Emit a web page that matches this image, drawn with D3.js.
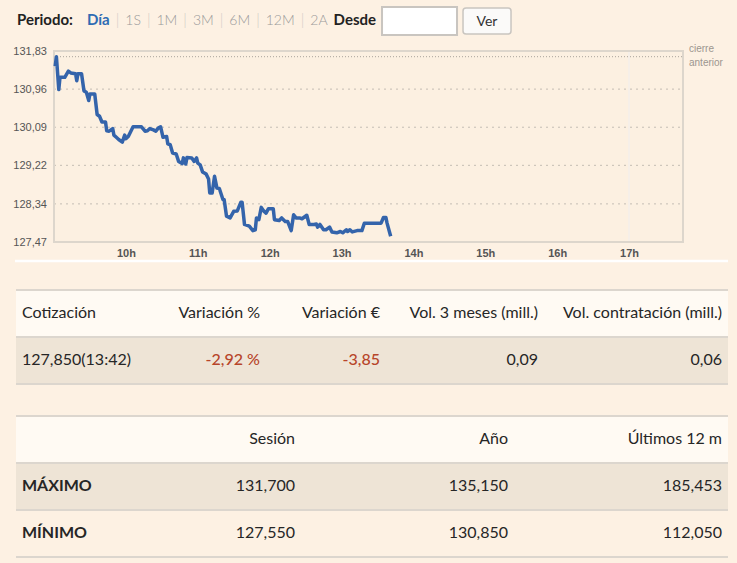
<!DOCTYPE html>
<html>
<head>
<meta charset="utf-8">
<script src="https://cdn.jsdelivr.net/npm/d3@7"></script>
<style>
  html, body { margin: 0; padding: 0; background: #fdf1e3; }
  svg { display: block; }
</style>
</head>
<body>
<div id="chart-container"></div>
<script>
// Intraday quotes (time, price)
var times = ["9:01","9:02","9:04","9:05","9:09","9:12","9:14","9:18","9:19","9:20","9:23","9:25","9:27","9:29","9:30","9:34","9:36","9:38","9:40","9:43",
  "9:44","9:46","9:49","9:50","9:52","9:54","9:57","9:59","10:00","10:02","10:06","10:13","10:16","10:18","10:20","10:23","10:25","10:27","10:29","10:31",
  "10:34","10:35","10:37","10:39","10:42","10:44","10:47","10:48","10:50","10:51","10:55","10:57","10:59","11:00","11:02","11:04","11:07","11:09","11:10","11:12",
  "11:14","11:16","11:18","11:21","11:22","11:24","11:27","11:30","11:33","11:36","11:37","11:39","11:43","11:46","11:48","11:49","11:51","11:53","11:55","11:57",
  "11:59","12:03","12:04","12:08","12:10","12:13","12:15","12:18","12:20","12:22","12:25","12:27","12:31","12:33","12:37","12:39","12:40","12:42","12:45","12:47",
  "12:50","12:52","12:56","12:59","13:01","13:04","13:05","13:07","13:09","13:13","13:17","13:19","13:33","13:35","13:37","13:38","13:41"];
var prices = [131.48,131.70,130.95,131.23,131.23,131.37,131.33,131.31,131.15,131.31,131.31,130.92,130.89,130.70,130.85,130.85,130.38,130.34,130.21,130.21,
  130.01,130.00,130.06,129.91,129.86,129.81,129.75,129.91,129.83,129.88,130.10,130.10,130.00,130.01,130.06,130.03,130.00,130.07,130.10,129.86,
  129.88,129.71,129.69,129.50,129.48,129.31,129.26,129.39,129.25,129.40,129.39,129.31,129.39,129.27,129.23,129.07,129.02,128.91,128.59,128.59,
  128.97,128.70,128.69,128.44,128.44,128.06,128.02,128.17,128.18,128.38,128.38,127.87,127.83,127.73,127.75,128.02,127.98,128.26,128.18,128.13,
  128.23,128.23,127.98,127.96,128.02,127.94,127.94,127.73,128.09,128.02,128.02,128.00,128.08,127.87,127.87,127.88,127.81,127.87,127.75,127.75,
  127.81,127.70,127.68,127.71,127.68,127.75,127.71,127.75,127.70,127.73,127.73,127.90,127.90,128.03,128.03,127.90,127.60];

var yTicks = [131.83, 130.96, 130.09, 129.22, 128.34, 127.47];
var hourTicks = [10, 11, 12, 13, 14, 15, 16, 17];
var prevClose = 131.70;

var periods = ["Día", "1S", "1M", "3M", "6M", "12M", "2A"];

var quoteHeaders = ["Cotización", "Variación %", "Variación €", "Vol. 3 meses (mill.)", "Vol. contratación (mill.)"];
var quoteValues = ["127,850(13:42)", "-2,92 %", "-3,85", "0,09", "0,06"];

var rangeHeaders = ["", "Sesión", "Año", "Últimos 12 m"];
var rangeRows = [
  ["MÁXIMO", "131,700", "135,150", "185,453"],
  ["MÍNIMO", "127,550", "130,850", "112,050"]
];

var uiFont = "Lato, 'Noto Sans', sans-serif";
var chartFont = "'Liberation Sans', Arial, sans-serif";

var svg = d3.select("#chart-container").append("svg")
  .attr("width", 737)
  .attr("height", 563);

// ---- Toolbar ----
var bar = svg.append("g").attr("font-family", uiFont).attr("font-size", 15);
var cx = 17;
function addText(txt, weight, fill, gapAfter, size) {
  var t = bar.append("text")
    .attr("x", cx).attr("y", 25)
    .attr("font-weight", weight)
    .attr("font-size", size || 15)
    .attr("fill", fill)
    .text(txt);
  cx += t.node().getComputedTextLength() + gapAfter;
  return t;
}
addText("Periodo:", "bold", "#222", 14);
periods.forEach(function(p, i) {
  addText(p, i === 0 ? "bold" : "300", i === 0 ? "#2f6cb3" : "#9a9a9a", 6, i === 0 ? 15 : 14);
  if (i < periods.length - 1) addText("|", "300", "#d2ccc4", 6, 15);
});
addText("Desde", "bold", "#222", 6);
bar.append("rect")
  .attr("x", cx).attr("y", 7).attr("width", 75).attr("height", 28)
  .attr("fill", "#fff").attr("stroke", "#c9c5c0").attr("stroke-width", 2);
cx += 81;
bar.append("rect")
  .attr("x", cx).attr("y", 8).attr("width", 48).attr("height", 26).attr("rx", 3)
  .attr("fill", "#fbfaf9").attr("stroke", "#c9c5c0").attr("stroke-width", 1.5);
bar.append("text")
  .attr("x", cx + 24).attr("y", 26)
  .attr("text-anchor", "middle")
  .attr("font-size", 14)
  .attr("fill", "#333")
  .text("Ver");

// ---- Price chart ----
var plotLeft = 54, plotRight = 683, plotTop = 51, plotBottom = 242;
var parseTime = d3.timeParse("%H:%M");
var day = function(h, m) { return new Date(1900, 0, 1, h, m || 0); };

var x = d3.scaleTime()
  .domain([day(9), day(17, 45)])
  .range([plotLeft, plotRight]);
var y = d3.scaleLinear()
  .domain([yTicks[yTicks.length - 1], yTicks[0]])
  .range([plotBottom, plotTop]);

var es = d3.formatLocale({ decimal: ",", thousands: ".", grouping: [3], currency: ["", "€"] });
var fmt2 = es.format(".2f");

var data = times.map(function(t, i) { return { t: parseTime(t), v: prices[i] }; });

var plot = svg.append("g");

plot.append("rect")
  .attr("x", plotLeft).attr("y", plotTop)
  .attr("width", plotRight - plotLeft).attr("height", plotBottom - plotTop)
  .attr("fill", "#fcf0e1");

// faint vertical line at 17h
plot.append("line")
  .attr("x1", x(day(17))).attr("x2", x(day(17)))
  .attr("y1", plotTop).attr("y2", plotBottom)
  .attr("stroke", "#f6efe8").attr("stroke-width", 2);

// horizontal grid
plot.selectAll(".grid")
  .data(yTicks.slice(1, -1))
  .enter().append("line")
  .attr("x1", plotLeft).attr("x2", plotRight)
  .attr("y1", d => y(d)).attr("y2", d => y(d))
  .attr("stroke", "#c4bdb4")
  .attr("stroke-width", 1)
  .attr("stroke-dasharray", "2,4");

// previous close
plot.append("line")
  .attr("x1", plotLeft).attr("x2", plotRight)
  .attr("y1", y(prevClose)).attr("y2", y(prevClose))
  .attr("stroke", "#a9a39b")
  .attr("stroke-width", 1)
  .attr("stroke-dasharray", "1,2");

plot.append("rect")
  .attr("x", plotLeft).attr("y", plotTop)
  .attr("width", plotRight - plotLeft).attr("height", plotBottom - plotTop)
  .attr("fill", "none")
  .attr("stroke", "#ddd6cc").attr("stroke-width", 2);

plot.append("path")
  .datum(data)
  .attr("fill", "none")
  .attr("stroke", "#3464ab")
  .attr("stroke-width", 3.5)
  .attr("stroke-linejoin", "round")
  .attr("d", d3.line().x(d => x(d.t)).y(d => y(d.v)));

// Y axis labels
var yAxis = svg.append("g")
  .attr("transform", "translate(" + (plotLeft - 4) + ",0)")
  .call(d3.axisLeft(y).tickValues(yTicks).tickSize(0).tickFormat(fmt2));
yAxis.select(".domain").remove();
yAxis.selectAll("text")
  .attr("font-family", chartFont).attr("font-size", 11).attr("fill", "#555");

// X axis labels
var xAxis = svg.append("g")
  .attr("transform", "translate(0," + (plotBottom + 4) + ")")
  .call(d3.axisBottom(x)
    .tickValues(hourTicks.map(h => day(h)))
    .tickSize(0)
    .tickFormat(d => d.getHours() + "h"));
xAxis.select(".domain").remove();
xAxis.selectAll("text")
  .attr("font-family", chartFont).attr("font-size", 11)
  .attr("font-weight", "bold").attr("fill", "#555");

// cierre anterior label
svg.append("text")
  .attr("x", plotRight + 6).attr("y", 52)
  .attr("font-family", chartFont).attr("font-size", 10).attr("fill", "#9c968f")
  .text("cierre");
svg.append("text")
  .attr("x", plotRight + 6).attr("y", 66)
  .attr("font-family", chartFont).attr("font-size", 10).attr("fill", "#9c968f")
  .text("anterior");

// white separator under the chart
svg.append("line")
  .attr("x1", 15).attr("x2", 728)
  .attr("y1", 261).attr("y2", 261)
  .attr("stroke", "#fff").attr("stroke-width", 2.5);

// ---- Tables ----
var tableLeft = 16, tableRight = 728, rowStep = 47;

function drawTable(y0, rows, colRights, fills, boldFirstCol) {
  var g = svg.append("g").attr("font-family", uiFont).attr("font-size", 16);
  rows.forEach(function(row, r) {
    var ry = y0 + r * rowStep;
    g.append("rect")
      .attr("x", tableLeft).attr("y", ry)
      .attr("width", tableRight - tableLeft).attr("height", rowStep)
      .attr("fill", fills[r]);
    g.append("rect")
      .attr("x", tableLeft).attr("y", ry)
      .attr("width", tableRight - tableLeft).attr("height", 2)
      .attr("fill", "#dcd6ce");
    row.forEach(function(cell, c) {
      var isFirst = c === 0;
      var red = cell.charAt(0) === "-";
      g.append("text")
        .attr("x", isFirst ? tableLeft + 6 : colRights[c])
        .attr("y", ry + 23)
        .attr("dy", "0.35em")
        .attr("text-anchor", isFirst ? "start" : "end")
        .attr("font-weight", (isFirst && boldFirstCol && r > 0) ? "bold" : (red ? "500" : "normal"))
        .attr("fill", red ? "#b7452a" : "#262626")
        .text(cell);
    });
  });
  g.append("rect")
    .attr("x", tableLeft).attr("y", y0 + rows.length * rowStep)
    .attr("width", tableRight - tableLeft).attr("height", 2)
    .attr("fill", "#dcd6ce");
}

drawTable(289, [quoteHeaders, quoteValues], [0, 260, 380, 538, 722],
  ["#fffaf3", "#eee4d6"], false);

drawTable(415, [rangeHeaders].concat(rangeRows), [0, 295, 508, 722],
  ["#fffaf3", "#eee4d6", "#fdf1e3"], true);
</script>
</body>
</html>
